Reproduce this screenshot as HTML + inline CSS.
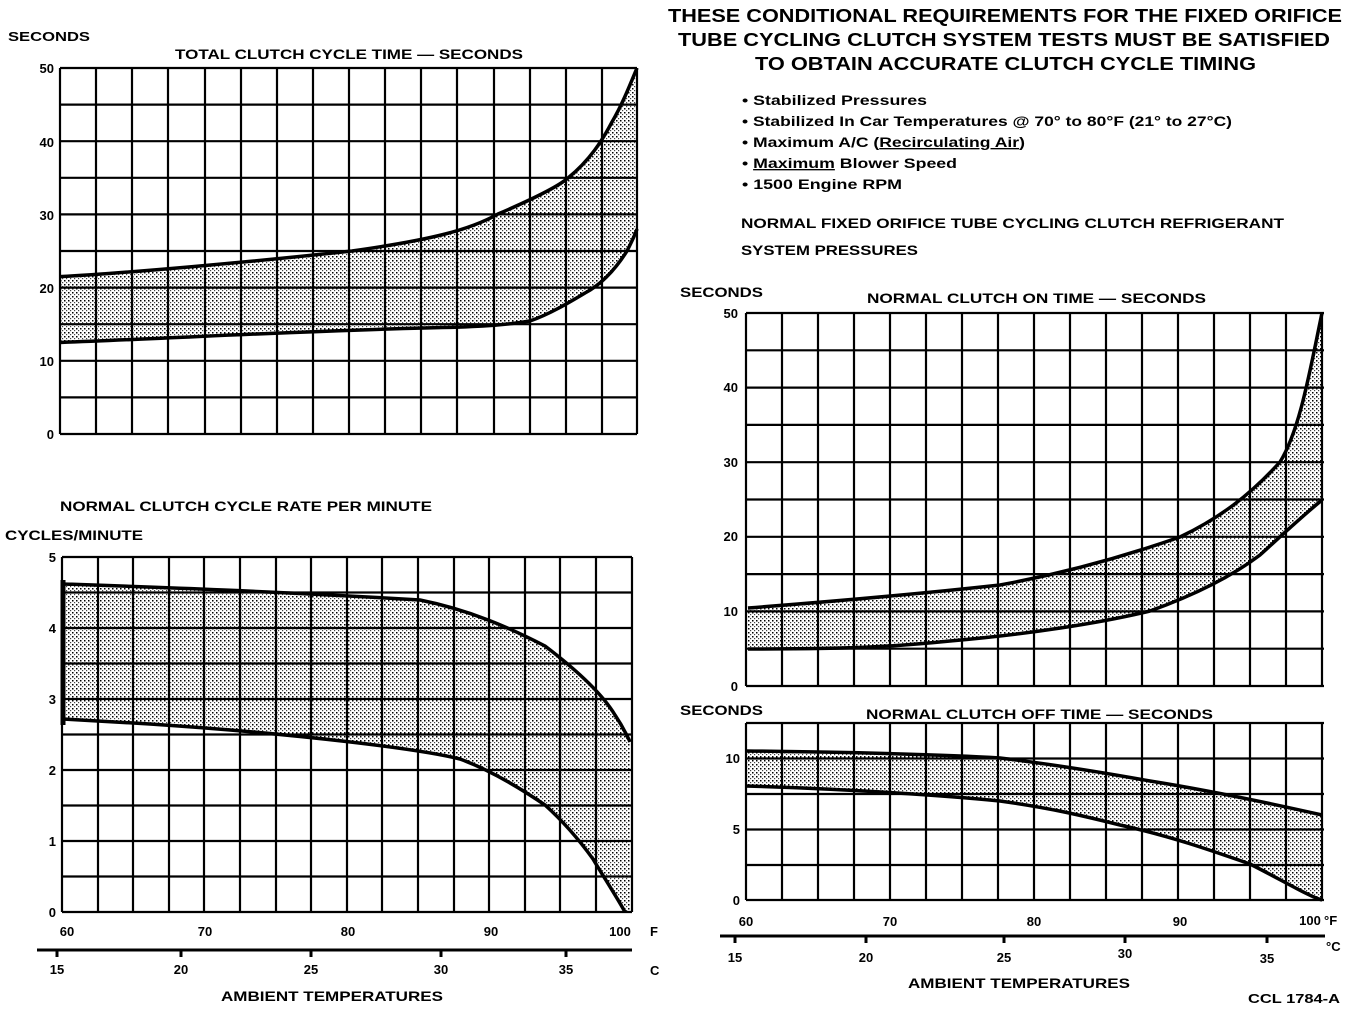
<!DOCTYPE html>
<html><head><meta charset="utf-8"><style>
html,body{margin:0;padding:0;background:#fff}
svg{display:block}
text{font-family:"Liberation Sans",sans-serif;font-weight:bold;fill:#000}
</style></head><body>
<svg width="1360" height="1010" viewBox="0 0 1360 1010" xmlns="http://www.w3.org/2000/svg">
<defs>
<pattern id="dots" width="4" height="4" patternUnits="userSpaceOnUse">
<rect width="4" height="4" fill="#fff"/>
<rect x="0" y="0" width="1.5" height="1.5" fill="#000"/>
<rect x="2" y="2" width="1.2" height="1.2" fill="#444"/>
</pattern>
</defs>

<!-- Chart 1 -->
<g>
<path d="M60,276.6 C127,273 250,262 352,251 C430,240 470,230 498,214 C540,196 560,185 568,178 C590,160 602,141 612,122 C622,105 630,85 637,68 L637,229 C632,245 627,251 627,251 C615,270 602,284 602,284 C585,295 570,302 570,302 C550,314 530,321 530,321 C515,326 500,326 500,326 L424,328 C350,331 300,331 300,331 C200,337 60,342.5 60,342.5 Z" fill="url(#dots)"/>
<g stroke="#000" stroke-width="2.2" fill="none">
<path d="M60,68 H637 M60,104.6 H637 M60,141.2 H637 M60,177.8 H637 M60,214.4 H637 M60,251 H637 M60,287.6 H637 M60,324.2 H637 M60,360.8 H637 M60,397.4 H637 M60,434 H637"/>
<path d="M60,68 V434 M96,68 V434 M132,68 V434 M168,68 V434 M205,68 V434 M241,68 V434 M277,68 V434 M313,68 V434 M349,68 V434 M385,68 V434 M421,68 V434 M457,68 V434 M494,68 V434 M530,68 V434 M566,68 V434 M602,68 V434 M637,68 V434"/>
</g>
<g stroke="#000" stroke-width="3.5" fill="none">
<path d="M60,276.6 C127,273 250,262 352,251 C430,240 470,230 498,214 C540,196 560,185 568,178 C590,160 602,141 612,122 C622,105 630,85 637,68"/>
<path d="M60,342.5 C200,337 300,331 424,328 C470,327 500,326 530,321 C550,314 570,302 585,293 C602,284 615,270 627,251 C632,241 635,235 637,229"/>
</g>
<text x="8" y="41" font-size="13" textLength="82" lengthAdjust="spacingAndGlyphs">SECONDS</text>
<text x="175" y="59" font-size="14" textLength="348" lengthAdjust="spacingAndGlyphs">TOTAL CLUTCH CYCLE TIME — SECONDS</text>
<g font-size="13" text-anchor="end">
<text x="54" y="73">50</text><text x="54" y="147">40</text><text x="54" y="220">30</text><text x="54" y="293">20</text><text x="54" y="366">10</text><text x="54" y="439">0</text>
</g>
</g>

<!-- Chart 2 -->
<g>
<path d="M63,584 C150,587 270,591 420,600 C470,610 510,628 545,646 C570,665 600,690 615,715 C625,730 630,742 630,742 L630,912 L625,912 C615,894 603,876 593,859 C580,841 565,823 545,805 C520,788 490,770 460,759 C420,749 300,734 150,724 L63,719 Z" fill="url(#dots)"/>
<g stroke="#000" stroke-width="2.2" fill="none">
<path d="M62,557 H632 M62,592.5 H632 M62,628 H632 M62,663.5 H632 M62,699 H632 M62,734.5 H632 M62,770 H632 M62,805.5 H632 M62,841 H632 M62,876.5 H632 M62,912 H632"/>
<path d="M62,557 V912 M98,557 V912 M133,557 V912 M169,557 V912 M204,557 V912 M240,557 V912 M276,557 V912 M311,557 V912 M347,557 V912 M382,557 V912 M418,557 V912 M454,557 V912 M489,557 V912 M525,557 V912 M560,557 V912 M596,557 V912 M632,557 V912"/>
</g>
<g stroke="#000" stroke-width="3.5" fill="none">
<path d="M63,584 C150,587 270,591 420,600 C470,610 510,628 545,646 C570,665 600,690 615,715 C625,730 630,742 630,742"/>
<path d="M63,719 L150,724 C300,734 420,749 460,759 C490,770 520,788 545,805 C565,823 580,841 593,859 C603,876 615,894 625,912"/>
<path d="M63,580 V725" stroke-width="5"/>
</g>
<text x="60" y="511" font-size="13.5" textLength="372" lengthAdjust="spacingAndGlyphs">NORMAL CLUTCH CYCLE RATE PER MINUTE</text>
<text x="5" y="540" font-size="13.5" textLength="138" lengthAdjust="spacingAndGlyphs">CYCLES/MINUTE</text>
<g font-size="13" text-anchor="end">
<text x="56" y="562">5</text><text x="56" y="633">4</text><text x="56" y="704">3</text><text x="56" y="775">2</text><text x="56" y="846">1</text><text x="56" y="917">0</text>
</g>
<g font-size="13" text-anchor="middle">
<text x="67" y="936">60</text><text x="205" y="936">70</text><text x="348" y="936">80</text><text x="491" y="936">90</text><text x="620" y="936">100</text>
<text x="57" y="974">15</text><text x="181" y="974">20</text><text x="311" y="974">25</text><text x="441" y="974">30</text><text x="566" y="974">35</text>
</g>
<text x="650" y="936" font-size="13">F</text>
<text x="650" y="975" font-size="13">C</text>
<g stroke="#000" stroke-width="3"><path d="M37,950 H632 M57,950 V957 M181,950 V957 M311,950 V957 M441,950 V957 M566,950 V957"/></g>
<text x="221" y="1001" font-size="14" textLength="222" lengthAdjust="spacingAndGlyphs">AMBIENT TEMPERATURES</text>
</g>

<!-- Right text -->
<g font-size="18">
<text x="668" y="22" textLength="674" lengthAdjust="spacingAndGlyphs">THESE CONDITIONAL REQUIREMENTS FOR THE FIXED  ORIFICE</text>
<text x="678" y="46" textLength="652" lengthAdjust="spacingAndGlyphs">TUBE CYCLING CLUTCH SYSTEM  TESTS MUST BE SATISFIED</text>
<text x="755" y="70" textLength="501" lengthAdjust="spacingAndGlyphs">TO OBTAIN ACCURATE CLUTCH CYCLE TIMING</text>
</g>
<g font-size="13.5">
<text x="742" y="105" textLength="185" lengthAdjust="spacingAndGlyphs">•  Stabilized Pressures</text>
<text x="742" y="126" textLength="490" lengthAdjust="spacingAndGlyphs">•  Stabilized In Car Temperatures @  70° to 80°F (21° to 27°C)</text>
<text x="742" y="147" textLength="283" lengthAdjust="spacingAndGlyphs">•  Maximum A/C (<tspan text-decoration="underline">Recirculating Air</tspan>)</text>
<text x="742" y="168" textLength="215" lengthAdjust="spacingAndGlyphs">•  <tspan text-decoration="underline">Maximum</tspan> Blower Speed</text>
<text x="742" y="189" textLength="160" lengthAdjust="spacingAndGlyphs">•  1500 Engine RPM</text>
<text x="741" y="228" textLength="543" lengthAdjust="spacingAndGlyphs">NORMAL FIXED ORIFICE TUBE CYCLING CLUTCH REFRIGERANT</text>
<text x="741" y="255" textLength="177" lengthAdjust="spacingAndGlyphs">SYSTEM PRESSURES</text>
</g>

<!-- Chart 3 -->
<g>
<path d="M748,608 C800,604 900,596 1000,585 C1060,574 1120,558 1180,537 C1220,518 1250,495 1280,462 C1300,430 1310,370 1322,313 L1322,500 C1300,518 1280,537 1260,555 C1235,574 1200,593 1150,611 C1100,623 1030,634 950,641 C900,646 860,649 748,649 Z" fill="url(#dots)"/>
<g stroke="#000" stroke-width="2.2" fill="none">
<path d="M746,313 H1324 M746,350.3 H1324 M746,387.6 H1324 M746,424.9 H1324 M746,462.2 H1324 M746,499.5 H1324 M746,536.8 H1324 M746,574.1 H1324 M746,611.4 H1324 M746,648.7 H1324 M746,686 H1324"/>
<path d="M746,313 V686 M782,313 V686 M818,313 V686 M854,313 V686 M890,313 V686 M926,313 V686 M962,313 V686 M998,313 V686 M1034,313 V686 M1070,313 V686 M1106,313 V686 M1142,313 V686 M1178,313 V686 M1214,313 V686 M1250,313 V686 M1286,313 V686 M1322,313 V686"/>
</g>
<g stroke="#000" stroke-width="3.5" fill="none">
<path d="M748,608 C800,604 900,596 1000,585 C1060,574 1120,558 1180,537 C1220,518 1250,495 1280,462 C1300,430 1310,370 1322,313"/>
<path d="M748,649 C860,649 900,646 950,641 C1030,634 1100,623 1150,611 C1200,593 1235,574 1260,555 C1280,537 1300,518 1322,500"/>
</g>
<text x="680" y="297" font-size="13.5" textLength="83" lengthAdjust="spacingAndGlyphs">SECONDS</text>
<text x="867" y="303" font-size="14" textLength="339" lengthAdjust="spacingAndGlyphs">NORMAL CLUTCH ON TIME — SECONDS</text>
<g font-size="13" text-anchor="end">
<text x="738" y="318">50</text><text x="738" y="392">40</text><text x="738" y="467">30</text><text x="738" y="541">20</text><text x="738" y="616">10</text><text x="738" y="691">0</text>
</g>
</g>

<!-- Chart 4 -->
<g>
<path d="M746,751 C850,752 950,755 1000,758 C1050,764 1100,772 1150,781 C1200,789 1260,801 1322,815 L1322,900 C1310,897 1280,879 1250,864 C1210,850 1170,836 1120,825 C1080,815 1050,808 1000,801 C950,796 850,789 746,786 Z" fill="url(#dots)"/>
<g stroke="#000" stroke-width="2.2" fill="none">
<path d="M746,723 H1324 M746,758.5 H1324 M746,794 H1324 M746,829.5 H1324 M746,865 H1324 M746,900 H1324"/>
<path d="M746,723 V900 M782,723 V900 M818,723 V900 M854,723 V900 M890,723 V900 M926,723 V900 M962,723 V900 M998,723 V900 M1034,723 V900 M1070,723 V900 M1106,723 V900 M1142,723 V900 M1178,723 V900 M1214,723 V900 M1250,723 V900 M1286,723 V900 M1322,723 V900"/>
</g>
<g stroke="#000" stroke-width="3.5" fill="none">
<path d="M746,751 C850,752 950,755 1000,758 C1050,764 1100,772 1150,781 C1200,789 1260,801 1322,815"/>
<path d="M746,786 C850,789 950,796 1000,801 C1050,808 1080,815 1120,825 C1170,836 1210,850 1250,864 C1280,879 1310,897 1322,900"/>
</g>
<text x="680" y="715" font-size="13.5" textLength="83" lengthAdjust="spacingAndGlyphs">SECONDS</text>
<text x="866" y="719" font-size="14" textLength="347" lengthAdjust="spacingAndGlyphs">NORMAL CLUTCH OFF TIME — SECONDS</text>
<g font-size="13" text-anchor="end">
<text x="740" y="763">10</text><text x="740" y="834">5</text><text x="740" y="905">0</text>
</g>
<g font-size="13" text-anchor="middle">
<text x="746" y="926">60</text><text x="890" y="926">70</text><text x="1034" y="926">80</text><text x="1180" y="926">90</text><text x="1310" y="925">100</text>
<text x="735" y="962">15</text><text x="866" y="962">20</text><text x="1004" y="962">25</text><text x="1125" y="958">30</text><text x="1267" y="963">35</text>
</g>
<text x="1324" y="925" font-size="13">°F</text>
<text x="1326" y="951" font-size="13">°C</text>
<g stroke="#000" stroke-width="3"><path d="M720,936 H1325 M735,936 V943 M866,936 V943 M1004,936 V943 M1125,936 V943 M1267,936 V943"/></g>
<text x="908" y="988" font-size="14" textLength="222" lengthAdjust="spacingAndGlyphs">AMBIENT TEMPERATURES</text>
<text x="1248" y="1003" font-size="12.5" textLength="92" lengthAdjust="spacingAndGlyphs">CCL 1784-A</text>
</g>
</svg>
</body></html>
